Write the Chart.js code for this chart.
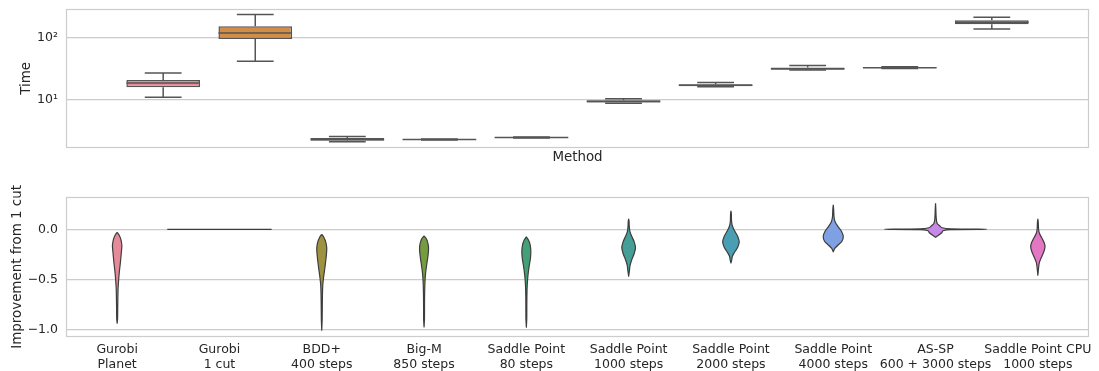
<!DOCTYPE html>
<html><head><meta charset="utf-8">
<script src="https://cdn.jsdelivr.net/npm/chart.js@4.4.1/dist/chart.umd.min.js"></script>
<style>
html,body{margin:0;padding:0;background:#fff;width:1099px;height:371px;overflow:hidden;}
canvas{position:absolute;left:0;}
#topChart{top:0;}
#botChart{top:176px;}
</style></head><body>
<canvas id="topChart" width="1099" height="166"></canvas>
<canvas id="botChart" width="1099" height="202"></canvas>
<script>
// ---------- data ----------
const methods = [
  ['Gurobi','Planet'], ['Gurobi','1 cut'], ['BDD+','400 steps'], ['Big-M','850 steps'],
  ['Saddle Point','80 steps'], ['Saddle Point','1000 steps'], ['Saddle Point','2000 steps'],
  ['Saddle Point','4000 steps'], ['AS-SP','600 + 3000 steps'], ['Saddle Point CPU','1000 steps']
];
// Time box plot (log scale)
const timeWhiskerLow  = [11.1,  42, 2.12, 2.26, 2.43,  8.85, 16.4, 30.5, 32.2, 140];
const timeQ1          = [16.1,  96, 2.20, 2.28, 2.45,  9.10, 16.6, 30.8, 32.8, 167];
const timeMedian      = [18.7, 120, 2.30, 2.30, 2.47,  9.45, 17.2, 32.0, 33.2, 180];
const timeQ3          = [20.9, 155, 2.44, 2.32, 2.49,  9.90, 17.9, 33.5, 33.7, 194];
const timeWhiskerHigh = [27.1, 239, 2.58, 2.35, 2.51, 10.50, 19.1, 36.0, 34.5, 216];
const timeTicks = [10, 100];
const timeTickLabels = ['10\u00b9', '10\u00b2'];

// Improvement violins: [value, half-width in category units]
const vGurobiPlanet = [[-0.03,0],[-0.06,0.02],[-0.1,0.036],[-0.16,0.046],[-0.22,0.042],[-0.33,0.032],[-0.42,0.022],[-0.5,0.015],[-0.6,0.009],[-0.75,0.006],[-0.9,0.004],[-0.94,0]];
const vGurobi1Cut = [[0.0,0.51]];
const vBDD400 = [[-0.05,0],[-0.08,0.02],[-0.13,0.04],[-0.19,0.049],[-0.27,0.044],[-0.39,0.03],[-0.48,0.018],[-0.56,0.01],[-0.7,0.006],[-0.9,0.004],[-1.01,0]];
const vBigM850 = [[-0.065,0],[-0.1,0.025],[-0.15,0.04],[-0.2,0.044],[-0.27,0.038],[-0.36,0.025],[-0.45,0.014],[-0.55,0.008],[-0.7,0.005],[-0.9,0.004],[-0.977,0]];
const vSP80 = [[-0.075,0],[-0.11,0.022],[-0.16,0.038],[-0.22,0.044],[-0.29,0.04],[-0.38,0.026],[-0.47,0.015],[-0.57,0.008],[-0.7,0.005],[-0.9,0.004],[-0.98,0]];
const vSP1000 = [[0.104,0],[0.08,0.004],[0.03,0.006],[-0.02,0.012],[-0.07,0.03],[-0.12,0.052],[-0.18,0.067],[-0.24,0.055],[-0.3,0.032],[-0.36,0.014],[-0.42,0.007],[-0.47,0]];
const vSP2000 = [[0.185,0],[0.15,0.004],[0.08,0.006],[0.03,0.015],[-0.02,0.038],[-0.07,0.065],[-0.125,0.081],[-0.18,0.066],[-0.23,0.035],[-0.27,0.014],[-0.31,0.007],[-0.337,0]];
const vSP4000 = [[0.245,0],[0.2,0.004],[0.12,0.008],[0.07,0.02],[0.03,0.045],[-0.02,0.08],[-0.07,0.098],[-0.12,0.085],[-0.16,0.045],[-0.19,0.015],[-0.21,0.006],[-0.226,0]];
const vASSP = [[0.26,0],[0.2,0.003],[0.12,0.006],[0.06,0.015],[0.035,0.04],[0.015,0.065],[0.004,0.15],[0.0,0.5],[-0.004,0.15],[-0.015,0.073],[-0.035,0.06],[-0.055,0.035],[-0.07,0.015],[-0.08,0]];
const vSPCPU = [[0.104,0],[0.07,0.004],[0.0,0.007],[-0.04,0.015],[-0.09,0.04],[-0.135,0.062],[-0.175,0.07],[-0.22,0.06],[-0.28,0.035],[-0.34,0.013],[-0.4,0.006],[-0.46,0]];
const violins = [vGurobiPlanet, vGurobi1Cut, vBDD400, vBigM850, vSP80, vSP1000, vSP2000, vSP4000, vASSP, vSPCPU];
const improvementTicks = [-1.0, -0.5, 0.0];

// ---------- style ----------
const palette = ['#e68a99','#d28d48','#9e9140','#759c40','#43a078','#459e97','#4a9eb3','#7fa1e3','#c789e5','#e377c4'];
const TEXT = '#262626', GRID = '#cccccc', EDGE = '#555555', VEDGE = '#3d3d3d';
Chart.defaults.font.family = 'DejaVu Sans';
Chart.defaults.font.size = 12.5;
Chart.defaults.color = TEXT;

const frame = {
  id: 'frame',
  afterDraw(chart) {
    const {ctx, chartArea: a} = chart;
    ctx.save();
    ctx.strokeStyle = GRID; ctx.lineWidth = 1.2;
    ctx.strokeRect(Math.round(a.left) + 0.5, Math.round(a.top) + 0.5,
                   Math.round(a.right - a.left) - 1, Math.round(a.bottom - a.top) - 1);
    ctx.restore();
  }
};

function xAxis(extra) {
  return Object.assign({
    type: 'linear', min: -0.5, max: 9.5,
    grid: {display: false, drawTicks: false},
    border: {display: false},
    afterBuildTicks: s => { s.ticks = methods.map((_, i) => ({value: i})); }
  }, extra);
}
function fitY(s) { s.width = 66; s.paddingTop = 0; s.paddingBottom = 0; }

// ---------- top chart: box plots ----------
const boxData = methods.map((_, i) => ({x: i, y: [timeQ1[i], timeQ3[i]]}));
const whiskerData = [];
const medianData = [];
methods.forEach((_, i) => {
  whiskerData.push(
    {x: i - 0.2, y: timeWhiskerHigh[i]}, {x: i + 0.2, y: timeWhiskerHigh[i]}, {x: i, y: null},
    {x: i, y: timeWhiskerHigh[i]}, {x: i, y: timeQ3[i]}, {x: i, y: null},
    {x: i, y: timeQ1[i]}, {x: i, y: timeWhiskerLow[i]}, {x: i, y: null},
    {x: i - 0.2, y: timeWhiskerLow[i]}, {x: i + 0.2, y: timeWhiskerLow[i]}, {x: i, y: null});
  medianData.push({x: i - 0.4, y: timeMedian[i]}, {x: i + 0.4, y: timeMedian[i]}, {x: i, y: null});
});

new Chart(document.getElementById('topChart'), {
  type: 'bar',
  data: {
    datasets: [
      {type: 'line', data: medianData, borderColor: EDGE, borderWidth: 1.5, pointRadius: 0, fill: false, tension: 0, order: 0},
      {type: 'line', data: whiskerData, borderColor: EDGE, borderWidth: 1.5, pointRadius: 0, fill: false, tension: 0, order: 1},
      {type: 'bar', data: boxData, backgroundColor: palette, borderColor: EDGE, borderWidth: 1.5,
       borderSkipped: false, barPercentage: 0.8, categoryPercentage: 1, order: 2}
    ]
  },
  options: {
    responsive: false, animation: false, devicePixelRatio: 1, events: [],
    layout: {padding: {top: 9, right: 10, left: 0, bottom: 0}},
    plugins: {legend: {display: false}, tooltip: {enabled: false}},
    scales: {
      x: xAxis({ticks: {display: false},
        title: {display: true, text: 'Method', color: TEXT, font: {size: 13.4}, padding: {top: 2, bottom: 0}}}),
      y: {
        type: 'logarithmic', min: 1.68, max: 294,
        afterBuildTicks: s => { s.ticks = timeTicks.map(v => ({value: v})); },
        afterFit: fitY,
        ticks: {padding: 8, color: TEXT, callback: v => timeTickLabels[timeTicks.indexOf(v)]},
        grid: {color: GRID, lineWidth: 1.2, drawTicks: false},
        border: {display: false},
        title: {display: true, text: 'Time', color: TEXT, font: {size: 13.4}, padding: {top: 18, bottom: 0}}
      }
    }
  },
  plugins: [frame]
});

// ---------- bottom chart: violins ----------
const violinSets = violins.map((prof, i) => {
  const right = prof.map(([v, w]) => ({x: i + w, y: v}));
  const left = prof.slice().reverse().map(([v, w]) => ({x: i - w, y: v}));
  return {type: 'line', data: right.concat(left), fill: 'shape', backgroundColor: palette[i],
          borderColor: VEDGE, borderWidth: 1.2, pointRadius: 0, tension: 0.3, borderJoinStyle: 'round'};
});

new Chart(document.getElementById('botChart'), {
  type: 'line',
  data: {datasets: violinSets},
  options: {
    responsive: false, animation: false, devicePixelRatio: 1, events: [],
    layout: {padding: {top: 21, right: 10, left: 0, bottom: 0}},
    plugins: {legend: {display: false}, tooltip: {enabled: false}},
    scales: {
      x: xAxis({ticks: {padding: 6, color: TEXT, maxRotation: 0, minRotation: 0, autoSkip: false,
        font: {lineHeight: 1.17}, callback: (v, idx) => methods[idx]}}),
      y: {
        type: 'linear', min: -1.075, max: 0.323,
        afterBuildTicks: s => { s.ticks = improvementTicks.map(v => ({value: v})); },
        afterFit: fitY,
        ticks: {padding: 8, color: TEXT, callback: v => (v < 0 ? '\u2212' : '') + Math.abs(v).toFixed(1)},
        grid: {color: GRID, lineWidth: 1.2, drawTicks: false},
        border: {display: false},
        title: {display: true, text: 'Improvement from 1 cut', color: TEXT, font: {size: 13.4}, padding: {top: 9.5, bottom: 0}}
      }
    }
  },
  plugins: [frame]
});
</script></body></html>
